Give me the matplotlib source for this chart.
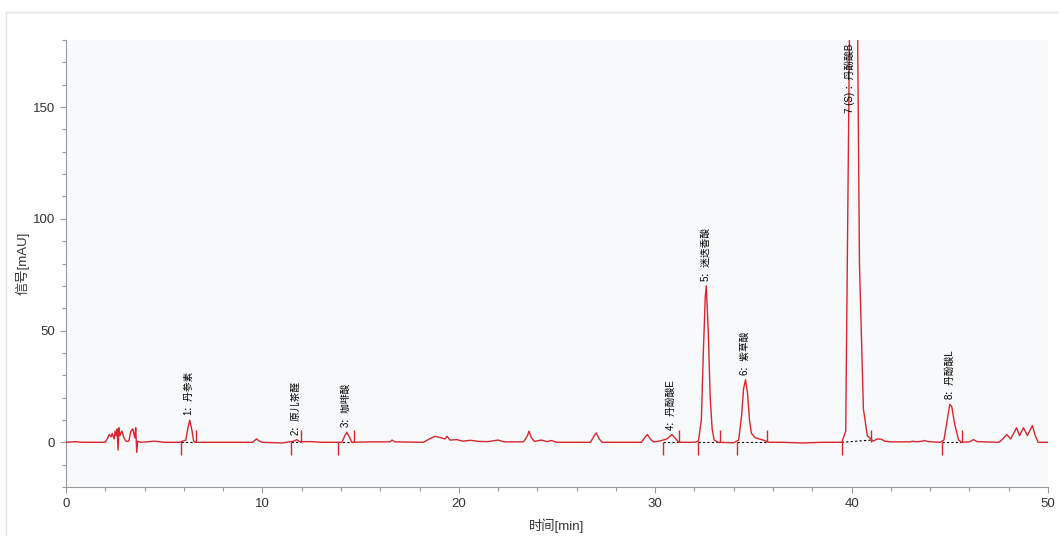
import matplotlib
matplotlib.use("Agg")
import matplotlib.pyplot as plt
from matplotlib.patches import Rectangle
from matplotlib.ticker import MultipleLocator

plt.rcParams['font.family'] = ['Liberation Sans', 'Noto Sans CJK SC', 'DejaVu Sans']

# chromatogram trace (time in min, signal in mAU)
trace_time = [
    0.0, 0.5, 0.8, 1.5, 2.0, 2.1, 2.2, 2.3, 2.35, 2.45, 2.5, 2.55, 2.6, 2.65,
    2.7, 2.75, 2.85, 2.95, 3.05, 3.2, 3.3, 3.4, 3.5, 3.55, 3.6, 3.65, 3.8,
    4.5, 5.0, 5.8, 6.1, 6.2, 6.3, 6.4, 6.5, 6.6, 9.5, 9.7, 9.85, 10.0, 11.0,
    11.6, 11.75, 11.9, 12.5, 13.0, 14.05, 14.2, 14.3, 14.45, 14.55, 15.5,
    16.5, 16.6, 16.75, 18.2, 18.5, 18.8, 19.1, 19.3, 19.4, 19.55, 19.9, 20.2,
    20.6, 21.0, 21.5, 22.0, 22.3, 23.3, 23.5, 23.57, 23.7, 23.85, 24.2, 24.5,
    24.7, 25.0, 26.7, 26.9, 27.0, 27.15, 27.3, 29.3, 29.5, 29.6, 29.75, 29.9,
    30.2, 30.6, 30.85, 31.05, 31.2, 32.0, 32.2, 32.35, 32.45, 32.55, 32.6,
    32.7, 32.8, 32.9, 33.0, 33.2, 34.0, 34.25, 34.4, 34.5, 34.6, 34.7, 34.8,
    34.9, 35.1, 35.5, 35.8, 36.5, 37.5, 38.5, 39.5, 39.7, 39.8, 39.9, 40.3,
    40.4, 40.6, 40.8, 41.1, 41.3, 41.5, 41.7, 42.0, 43.0, 43.1, 43.3, 43.6,
    43.7, 43.9, 44.5, 44.7, 44.85, 45.0, 45.1, 45.25, 45.45, 45.6, 46.0, 46.2,
    46.4, 47.5, 47.7, 47.9, 48.1, 48.25, 48.4, 48.55, 48.75, 48.95, 49.2,
    49.35, 49.5, 50.0,
]
trace_signal = [
    0.0, 0.3, 0.0, 0.0, 0.0, 1.5, 3.5, 2.5, 4.0, 1.5, 5.0, 3.0, 6.0, -3.5,
    6.5, 3.0, 5.0, 2.0, 0.5, 0.5, 5.0, 6.0, 2.0, 6.5, -4.5, 0.5, 0.0,
    0.5, 0.0, 0.0, 1.0, 6.0, 9.9, 6.0, 0.5, 0.0, 0.0, 1.5, 0.5, 0.0, -0.3,
    0.5, 1.2, 0.3, 0.3, 0.0, 0.0, 3.0, 4.5, 2.0, 0.0, 0.2,
    0.2, 1.0, 0.2, 0.0, 1.5, 2.7, 2.0, 1.5, 2.7, 1.0, 1.2, 0.5,
    0.9, 0.4, 0.3, 1.0, 0.2, 0.2, 3.0, 5.0, 2.0, 0.4, 1.0, 0.3,
    0.8, 0.0, 0.0, 3.0, 4.2, 1.5, 0.0, 0.0, 2.5, 3.5, 1.5, 0.2,
    0.5, 1.5, 3.5, 1.5, 0.0, 0.0, 0.5, 10.0, 40.0, 65.0, 70.0,
    50.0, 20.0, 6.0, 1.0, 0.0, -0.2, 1.0, 12.0, 24.0, 28.0, 22.0, 10.0,
    4.0, 2.0, 1.0, 0.0, 0.0, -0.3, 0.0, 0.0, 5.0, 100.0, 190.0, 190.0,
    80.0, 15.0, 3.0, 0.5, 1.5, 1.4, 0.5, 0.2, 0.2, 0.5, 0.2, 0.5,
    0.8, 0.3, 0.0, 1.0, 9.0, 17.0, 16.0, 8.0, 1.0, 0.0, 0.2, 1.2,
    0.3, 0.0, 1.5, 3.5, 1.5, 4.0, 6.5, 3.0, 6.5, 3.0, 7.5,
    3.0, 0.0, 0.0,
]

# identified peaks
peak_labels = ['1：丹参素', '2：原儿茶醛', '3：咖啡酸', '4：丹酚酸E',
               '5：迷迭香酸', '6：紫草酸', '7 (S) ：丹酚酸B', '8：丹酚酸L']
peak_time = [6.3, 11.75, 14.3, 30.85, 32.6, 34.6, 40.0, 45.05]
peak_height = [9.9, 1.2, 4.5, 3.5, 70.0, 28.0, 190.0, 17.0]

# integration start / end and baseline levels
int_start = [5.86, 11.46, 13.85, 30.4, 32.2, 34.15, 39.5, 44.6]
int_end = [6.62, 11.97, 14.67, 31.2, 33.3, 35.7, 41.0, 45.6]
base_end = [0.0, 0.0, 0.0, 0.0, 0.0, 0.0, 1.0, 0.0]

red = '#d7262e'
grey = '#9a9a9a'

fig = plt.figure(figsize=(10.59, 5.36), dpi=100)
fig.patches.append(Rectangle((6 / 1059, -0.1), 1.2, 1 - 12 / 536 + 0.1,
                             transform=fig.transFigure, fill=False,
                             edgecolor='#e3e3e3', linewidth=1.0))
ax = fig.add_axes([66 / 1059, 1 - 487 / 536, (1048 - 66) / 1059, (487 - 40) / 536])
ax.set_facecolor('#f8f9fb')

ax.set_xlim(0, 50)
ax.set_ylim(-20, 180)

# baselines under integrated peaks
for s, e, b in zip(int_start, int_end, base_end):
    ax.plot([s, e], [0, b], color='black', linestyle=(0, (2, 2)), linewidth=0.8, zorder=2)

ax.plot(trace_time, trace_signal, color=red, linewidth=1.0, zorder=3)

# integration markers
ax.vlines(int_start, -5.5, 0, color=red, linewidth=1.0, zorder=3)
ax.vlines(int_end, 0, 5.5, color=red, linewidth=1.0, zorder=3)

for lab, t, h in zip(peak_labels, peak_time, peak_height):
    if h + 2 > 170:
        ax.text(t - 0.1, 178.5, lab, rotation=90, ha='center', va='top', fontsize=7, zorder=4)
    else:
        ax.text(t - 0.05, h + 2.2, lab, rotation=90, ha='center', va='bottom', fontsize=7, zorder=4)

ax.xaxis.set_major_locator(MultipleLocator(10))
ax.xaxis.set_minor_locator(MultipleLocator(2))
ax.yaxis.set_major_locator(MultipleLocator(50))
ax.yaxis.set_minor_locator(MultipleLocator(10))

for side in ['top', 'right']:
    ax.spines[side].set_visible(False)
for side in ['left', 'bottom']:
    ax.spines[side].set_color(grey)
    ax.spines[side].set_linewidth(0.8)

ax.tick_params(which='major', direction='out', length=4, width=0.8, color=grey,
               labelsize=9.5, labelcolor='#333333', pad=4)
ax.tick_params(which='minor', direction='out', length=3, width=0.8, color=grey)

ax.set_xlabel('时间[min]', fontsize=9.5, color='#333333', labelpad=6)
ax.set_ylabel('信号[mAU]', fontsize=9.5, color='#333333')
ax.yaxis.set_label_coords(-0.037, 0.5)

fig.savefig('out.png', dpi=100)
